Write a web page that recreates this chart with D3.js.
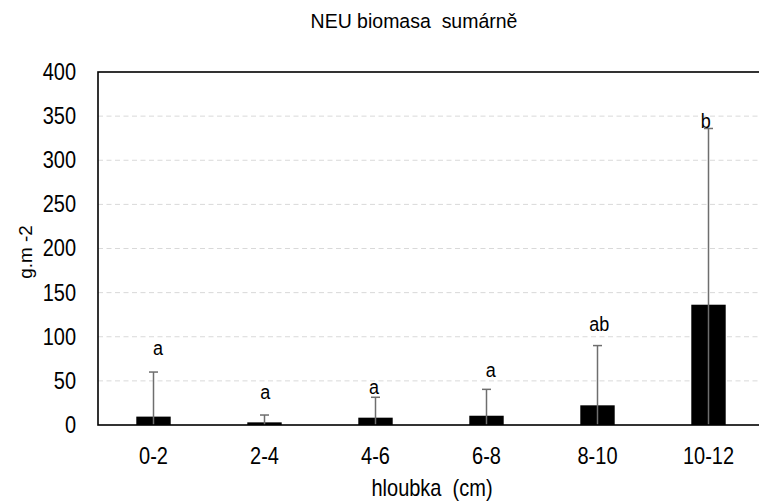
<!DOCTYPE html>
<html>
<head>
<meta charset="utf-8">
<script src="https://cdn.jsdelivr.net/npm/d3@7"></script>
<style>
  html, body { margin: 0; padding: 0; background: #fff; }
  text { font-family: "Liberation Sans", Arial, sans-serif; fill: #000; white-space: pre; }
</style>
</head>
<body>
<svg id="chart" width="759" height="501"></svg>
<script>
// hloubkové vrstvy a průměrná biomasa (g.m-2) se směrodatnou odchylkou
var depths = ["0-2", "2-4", "4-6", "6-8", "8-10", "10-12"];
var biomass = [9.5, 3, 8.3, 10.5, 22.3, 136.3];
var sd = [50.5, 8.3, 23.1, 29.9, 67.7, 199.7];
var groups = ["a", "a", "a", "a", "ab", "b"];
// úroveň účaří písmen skupin v jednotkách osy y
var groupLevel = [79.3, 29.5, 34.8, 54, 106.9, 337];
var yTicks = [0, 50, 100, 150, 200, 250, 300, 350, 400];

// posun písmen vůči středu sloupce (px)
var groupShift = [4.4, 0.7, -1.6, 4.3, 1.7, -2.8];
var stretch = "scale(1,1.17)";

var svg = d3.select("#chart");
var margin = {left: 98, top: 72, right: -5, bottom: 76};
var W = 759, H = 501;

var x = d3.scaleBand()
    .domain(depths)
    .range([margin.left, W - margin.right])
    .paddingInner(0.69)
    .paddingOuter(0.345);

var y = d3.scaleLinear()
    .domain([0, 400])
    .range([H - margin.bottom, margin.top]);

// mřížka
svg.append("g")
    .selectAll("line")
    .data(yTicks.filter(function(d){ return d > 0 && d < 400; }))
    .enter().append("line")
    .attr("x1", margin.left)
    .attr("x2", W - margin.right)
    .attr("y1", function(d){ return y(d); })
    .attr("y2", function(d){ return y(d); })
    .attr("stroke", "#d9d9d9")
    .attr("stroke-width", 1)
    .attr("stroke-dasharray", "5,3.5");

// sloupce
svg.append("g")
    .selectAll("rect")
    .data(depths)
    .enter().append("rect")
    .attr("x", function(d){ return x(d); })
    .attr("width", x.bandwidth())
    .attr("y", function(d, i){ return y(biomass[i]); })
    .attr("height", function(d, i){ return y(0) - y(biomass[i]); })
    .attr("fill", "#000");

// chybové úsečky
var err = svg.append("g")
    .selectAll("g")
    .data(depths)
    .enter().append("g");

err.append("line")
    .attr("x1", function(d){ return x(d) + x.bandwidth() / 2; })
    .attr("x2", function(d){ return x(d) + x.bandwidth() / 2; })
    .attr("y1", function(d, i){ return y(Math.max(0, biomass[i] - sd[i])); })
    .attr("y2", function(d, i){ return y(biomass[i] + sd[i]); })
    .attr("stroke", "#6e6e6e")
    .attr("stroke-width", 1.5);

err.append("line")
    .attr("x1", function(d){ return x(d) + x.bandwidth() / 2 - 4.5; })
    .attr("x2", function(d){ return x(d) + x.bandwidth() / 2 + 4.5; })
    .attr("y1", function(d, i){ return y(biomass[i] + sd[i]); })
    .attr("y2", function(d, i){ return y(biomass[i] + sd[i]); })
    .attr("stroke", "#6e6e6e")
    .attr("stroke-width", 1.5);

// písmena homogenních skupin
svg.append("g")
    .selectAll("text")
    .data(depths)
    .enter().append("text")
    .attr("transform", function(d, i){
        return "translate(" + (x(d) + x.bandwidth() / 2 + groupShift[i]) + "," + y(groupLevel[i]) + ") " + stretch;
    })
    .attr("text-anchor", "middle")
    .style("font-size", "18px")
    .text(function(d, i){ return groups[i]; });

// rámeček grafu
svg.append("rect")
    .attr("x", margin.left)
    .attr("y", margin.top)
    .attr("width", W - margin.right - margin.left)
    .attr("height", H - margin.bottom - margin.top)
    .attr("fill", "none")
    .attr("stroke", "#000")
    .attr("stroke-width", 1.6);

// osa y
var yAxis = svg.append("g")
    .attr("transform", "translate(" + margin.left + ",0)")
    .call(d3.axisLeft(y).tickValues(yTicks).tickSize(0).tickPadding(22));
yAxis.select(".domain").remove();
yAxis.selectAll("text")
    .attr("transform", stretch)
    .style("font-size", "20px");

// osa x
var xAxis = svg.append("g")
    .attr("transform", "translate(0," + y(0) + ")")
    .call(d3.axisBottom(x).tickSize(0).tickPadding(19));
xAxis.select(".domain").remove();
xAxis.selectAll("text")
    .attr("transform", stretch)
    .style("font-size", "20px");

svg.append("text")
    .attr("transform", "translate(414,28) scale(1,1.05)")
    .attr("text-anchor", "middle")
    .style("font-size", "19.5px")
    .text("NEU biomasa  sumárně");

svg.append("text")
    .attr("transform", "translate(432,496) " + stretch)
    .attr("text-anchor", "middle")
    .style("font-size", "20px")
    .text("hloubka  (cm)");

svg.append("text")
    .attr("transform", "translate(32,252) rotate(-90) scale(1.05,1)")
    .attr("text-anchor", "middle")
    .style("font-size", "18px")
    .text("g.m -2");
</script>
</body>
</html>
